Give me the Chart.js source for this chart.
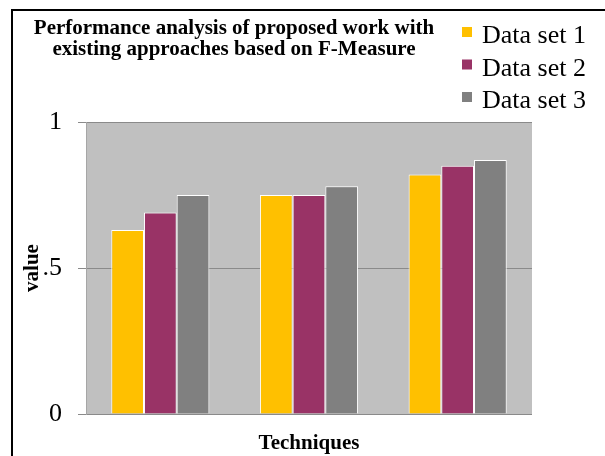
<!DOCTYPE html>
<html>
<head>
<meta charset="utf-8">
<script src="https://cdn.jsdelivr.net/npm/chart.js@4"></script>
<style>
html,body{margin:0;padding:0;background:#fff;overflow:hidden;}
#wrap{width:605px;height:456px;position:relative;}
</style>
</head>
<body>
<div id="wrap"><canvas id="c" width="605" height="456"></canvas></div>
<script>
const categories = ["Technique 1", "Technique 2", "Technique 3"];
const seriesNames = ["Data set 1", "Data set 2", "Data set 3"];
const dataSet1 = [0.63, 0.75, 0.82];
const dataSet2 = [0.69, 0.75, 0.85];
const dataSet3 = [0.75, 0.78, 0.87];
const seriesColors = ["#FFC000", "#993366", "#808080"];
const yTickLabels = {0: "0", 0.5: ".5", 1: "1"};
const titleLines = ["Performance analysis of proposed work with", "existing approaches based on F-Measure"];
const xTitle = "Techniques";
const yTitle = "value";

const SERIF = "'Liberation Serif', 'Times New Roman', serif";

const decor = {
  id: 'decor',
  beforeDraw(chart) {
    const {ctx, chartArea: a} = chart;
    ctx.save();
    ctx.fillStyle = '#C0C0C0';
    ctx.fillRect(a.left, a.top, a.right - a.left, a.bottom - a.top);
    ctx.restore();
  },
  afterDraw(chart) {
    const ctx = chart.ctx;
    ctx.save();
    // outer frame (left & top)
    ctx.strokeStyle = '#000';
    ctx.lineWidth = 2;
    ctx.beginPath();
    ctx.moveTo(12, 456);
    ctx.lineTo(12, 10);
    ctx.lineTo(605, 10);
    ctx.stroke();
    // title
    ctx.fillStyle = '#000';
    ctx.font = "bold 21px " + SERIF;
    ctx.textAlign = 'center';
    ctx.textBaseline = 'alphabetic';
    ctx.fillText(titleLines[0], 234, 34);
    ctx.fillText(titleLines[1], 234, 55);
    // legend
    ctx.font = "26px " + SERIF;
    ctx.textAlign = 'left';
    chart.data.datasets.forEach((ds, i) => {
      const base = 43 + i * 32.5;
      ctx.fillStyle = ds.backgroundColor;
      ctx.fillRect(462, base - 16, 10, 10);
      ctx.fillStyle = '#000';
      ctx.fillText(ds.label, 482, base);
    });
    ctx.restore();
  }
};

new Chart(document.getElementById('c'), {
  type: 'bar',
  data: {
    labels: categories,
    datasets: [
      {label: seriesNames[0], data: dataSet1, backgroundColor: seriesColors[0]},
      {label: seriesNames[1], data: dataSet2, backgroundColor: seriesColors[1]},
      {label: seriesNames[2], data: dataSet3, backgroundColor: seriesColors[2]}
    ]
  },
  options: {
    responsive: false,
    animation: false,
    layout: {padding: {top: 122, right: 73, bottom: 0, left: 0}},
    datasets: {bar: {barPercentage: 1, categoryPercentage: 0.66, borderColor: '#ffffff', borderWidth: 1}},
    plugins: {legend: {display: false}, title: {display: false}, tooltip: {enabled: false}},
    scales: {
      x: {
        grid: {display: false, drawTicks: false},
        border: {display: false},
        ticks: {display: false},
        title: {display: true, text: xTitle, color: '#000',
          font: {family: SERIF, size: 21, weight: 'bold', lineHeight: 25/21},
          padding: {top: 17, bottom: 0}}
      },
      y: {
        min: 0, max: 1,
        afterFit(scale) { scale.width = 86; },
        ticks: {stepSize: 0.5, color: '#000', padding: 16,
          font: {family: SERIF, size: 26},
          callback: (v) => yTickLabels[v] !== undefined ? yTickLabels[v] : ''},
        grid: {color: '#8a8a8a', tickLength: 8, lineWidth: 1},
        border: {color: '#a6a6a6'},
        title: {display: true, text: yTitle, color: '#000',
          font: {family: SERIF, size: 21, weight: 'bold', lineHeight: 1.2},
          padding: {top: 20, bottom: 0}}
      }
    }
  },
  plugins: [decor]
});
</script>
</body>
</html>
